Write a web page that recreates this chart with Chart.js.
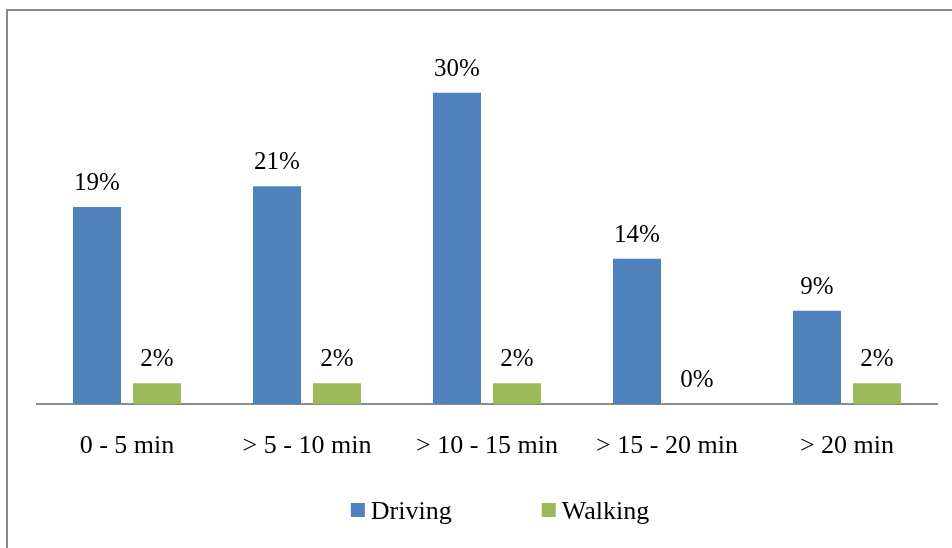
<!DOCTYPE html>
<html>
<head>
<meta charset="utf-8">
<title>Travel time by mode</title>
<script src="https://cdn.jsdelivr.net/npm/chart.js@4/dist/chart.umd.min.js"></script>
<style>
  html, body { margin: 0; padding: 0; background: #ffffff; }
  #wrap { width: 952px; height: 548px; }
</style>
</head>
<body>
<div id="wrap"><canvas id="chart" width="952" height="548"></canvas></div>
<script>
// Travel-time bands and the share of trips in each, by mode (percent)
const categories = ['0 - 5 min', '> 5 - 10 min', '> 10 - 15 min', '> 15 - 20 min', '> 20 min'];
const drivingShare = [19, 21, 30, 14, 9];
const walkingShare = [2, 2, 2, 0, 2];
const seriesNames = ['Driving', 'Walking'];
const seriesColors = ['#4f81bd', '#9bbb59'];

const FONT = '"Liberation Serif", "Times New Roman", serif';

// Outer frame: grey rule along the top and left edges
const framePlugin = {
  id: 'frame',
  beforeDraw(chart) {
    const ctx = chart.ctx;
    ctx.save();
    ctx.fillStyle = '#ffffff';
    ctx.fillRect(0, 0, chart.width, chart.height);
    ctx.strokeStyle = '#8a8a8a';
    ctx.lineWidth = 2;
    ctx.beginPath();
    ctx.moveTo(7, chart.height);
    ctx.lineTo(7, 10);
    ctx.lineTo(chart.width, 10);
    ctx.stroke();
    ctx.restore();
  }
};

// Percentage label above every bar
const valueLabels = {
  id: 'valueLabels',
  afterDatasetsDraw(chart) {
    const ctx = chart.ctx;
    ctx.save();
    ctx.font = '25px ' + FONT;
    ctx.fillStyle = '#000000';
    ctx.textAlign = 'center';
    ctx.textBaseline = 'alphabetic';
    chart.data.datasets.forEach((ds, i) => {
      chart.getDatasetMeta(i).data.forEach((bar, j) => {
        ctx.fillText(ds.data[j] + '%', bar.x, bar.y - 17);
      });
    });
    ctx.restore();
  }
};

// Legend row under the axis: colour square followed by the series name
const legendRow = {
  id: 'legendRow',
  afterDraw(chart) {
    const ctx = chart.ctx;
    const box = 14, gapText = 6, gapItem = 90;
    const centerX = 500, baseline = 519;
    ctx.save();
    ctx.font = '26px ' + FONT;
    const items = chart.data.datasets.map(ds => ({
      label: ds.label,
      color: ds.backgroundColor,
      w: box + gapText + ctx.measureText(ds.label).width
    }));
    const total = items.reduce((s, it) => s + it.w, 0) + gapItem * (items.length - 1);
    let x = centerX - total / 2;
    items.forEach(it => {
      ctx.fillStyle = it.color;
      ctx.fillRect(x, baseline - 16, box, box);
      ctx.fillStyle = '#000000';
      ctx.textAlign = 'left';
      ctx.textBaseline = 'alphabetic';
      ctx.fillText(it.label, x + box + gapText, baseline);
      x += it.w + gapItem;
    });
    ctx.restore();
  }
};

new Chart(document.getElementById('chart'), {
  type: 'bar',
  data: {
    labels: categories,
    datasets: [
      { label: seriesNames[0], data: drivingShare, backgroundColor: seriesColors[0] },
      { label: seriesNames[1], data: walkingShare, backgroundColor: seriesColors[1] }
    ]
  },
  options: {
    responsive: false,
    devicePixelRatio: 1,
    animation: false,
    layout: { padding: { left: 37, right: 15, top: 41, bottom: 40 } },
    datasets: {
      bar: { categoryPercentage: 0.667, barPercentage: 0.8, borderWidth: 0 }
    },
    plugins: {
      legend: { display: false },
      tooltip: { enabled: false }
    },
    scales: {
      x: {
        grid: { display: false, drawTicks: false },
        border: { display: true, color: '#8c8c8c', width: 2 },
        ticks: {
          color: '#000000',
          font: { family: FONT, size: 26 },
          padding: 27,
          maxRotation: 0,
          autoSkip: false
        },
        afterFit(scale) { scale.height = 104; }
      },
      y: {
        display: false,
        min: 0,
        max: 35
      }
    }
  },
  plugins: [framePlugin, valueLabels, legendRow]
});
</script>
</body>
</html>
